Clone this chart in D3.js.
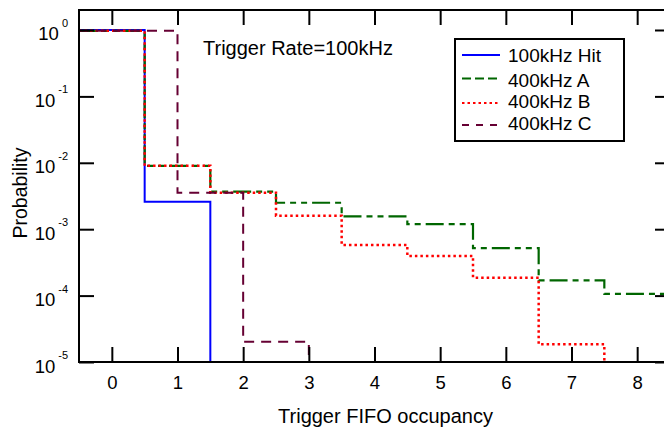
<!DOCTYPE html>
<html>
<head>
<meta charset="utf-8">
<script src="https://cdn.jsdelivr.net/npm/d3@7"></script>
<style>
  html, body { margin: 0; padding: 0; background: #fff; }
  svg { display: block; font-family: "Liberation Sans", Arial, sans-serif; }
</style>
</head>
<body>
<svg id="chart" width="664" height="432"></svg>
<script>
// ---- data ----
const xTicks = [0, 1, 2, 3, 4, 5, 6, 7, 8];
const yTicks = [1, 1e-1, 1e-2, 1e-3, 1e-4, 1e-5];
const yTickExponents = ["0", "-1", "-2", "-3", "-4", "-5"];
const seriesNames = ["100kHz Hit", "400kHz A", "400kHz B", "400kHz C"];

// bin edges and step values for each series
const hitEdges = [-0.5, 0.5, 1.5];
const hitValues = [1.0, 2.6e-3];
const aEdges = [-0.5, 0.5, 1.5, 2.5, 3.5, 4.5, 5.5, 6.5, 7.5, 8.5];
const aValues = [0.97, 9.0e-3, 3.67e-3, 2.5e-3, 1.56e-3, 1.19e-3, 5.2e-4, 1.7e-4, 1.06e-4];
const bEdges = [-0.5, 0.5, 1.5, 2.5, 3.5, 4.5, 5.5, 6.5, 7.5];
const bValues = [0.97, 9.0e-3, 3.55e-3, 1.6e-3, 5.8e-4, 3.95e-4, 1.86e-4, 1.85e-5];
const cEdges = [-0.5, 1, 2, 3];
const cValues = [0.97, 3.55e-3, 2.02e-5];
const dropsToZero = [true, false, true, true];

const xTitle = "Trigger FIFO occupancy";
const yTitle = "Probability";
const annotation = "Trigger Rate=100kHz";

// ---- styles ----
const colors = ["#0000ff", "#006600", "#ff0000", "#660033"];
const dashes = [null, "18,5,6,5,6,5", "2.5,3", "10,7"];
const legendDashes = [null, "9,4", "2.5,3", "7,7"];
const widths = [2, 2.2, 2.5, 2];

// ---- layout ----
const svg = d3.select("#chart");
const L = 79, R = 670, T = 10, B = 362;
const x = d3.scaleLinear().domain([-0.5, 8.5]).range([L, R]);
const y = d3.scaleLog().domain([1e-5, 2]).range([B, T]);

svg.append("defs").append("clipPath").attr("id", "clip")
  .append("rect").attr("x", L).attr("y", T).attr("width", R - L).attr("height", B - T);

const series = [
  {edges: hitEdges, values: hitValues},
  {edges: aEdges, values: aValues},
  {edges: bEdges, values: bValues},
  {edges: cEdges, values: cValues}
];

const line = d3.line().x(d => x(d[0])).y(d => d[1] === null ? y(y.domain()[0]) : y(d[1]));

const g = svg.append("g").attr("clip-path", "url(#clip)");
series.forEach((s, i) => {
  const pts = [];
  s.values.forEach((v, j) => { pts.push([s.edges[j], v]); pts.push([s.edges[j + 1], v]); });
  if (dropsToZero[i]) pts.push([s.edges[s.edges.length - 1], null]);
  g.append("path").attr("d", line(pts))
    .attr("fill", "none").attr("stroke", colors[i]).attr("stroke-width", widths[i])
    .attr("stroke-dasharray", dashes[i]);
});

// ---- axes (ticks inward on all four sides) ----
const tickLen = 15;
function styleAxis(sel) {
  sel.select(".domain").remove();
  sel.selectAll(".tick line").attr("stroke", "#000").attr("stroke-width", 2);
}
svg.append("g").attr("transform", `translate(0,${B})`)
  .call(d3.axisBottom(x).tickValues(xTicks).tickSize(-tickLen).tickPadding(14).tickFormat(d3.format("d")))
  .call(styleAxis)
  .call(a => a.selectAll("text").attr("font-size", 18.5).attr("fill", "#000")
    .attr("font-family", "Liberation Sans, Arial, sans-serif"));
svg.append("g").attr("transform", `translate(0,${T})`)
  .call(d3.axisTop(x).tickValues(xTicks).tickSize(-tickLen).tickFormat(""))
  .call(styleAxis);
svg.append("g").attr("transform", `translate(${L},0)`)
  .call(d3.axisLeft(y).tickValues(yTicks).tickSize(-tickLen).tickFormat(""))
  .call(styleAxis);
svg.append("g").attr("transform", `translate(${R},0)`)
  .call(d3.axisRight(y).tickValues(yTicks).tickSize(-tickLen).tickFormat(""))
  .call(styleAxis);

// y tick labels with superscript exponents
yTicks.forEach((v, i) => {
  const t = svg.append("text").attr("x", 68).attr("y", y(v) + 10.5)
    .attr("text-anchor", "end").attr("font-size", 18.5).attr("fill", "#000");
  t.append("tspan").text("10");
  t.append("tspan").attr("dx", 3).attr("dy", -13.5).attr("font-size", 11).text(yTickExponents[i]);
});

// frame
svg.append("rect").attr("x", L).attr("y", T).attr("width", R - L).attr("height", B - T)
  .attr("fill", "none").attr("stroke", "#000").attr("stroke-width", 2);

// titles
svg.append("text").attr("x", 385.5).attr("y", 423).attr("text-anchor", "middle")
  .attr("font-size", 20).attr("fill", "#000").text(xTitle);
svg.append("text").attr("transform", "translate(27,193) rotate(-90)").attr("text-anchor", "middle")
  .attr("font-size", 19.5).attr("fill", "#000").text(yTitle);
svg.append("text").attr("x", 203).attr("y", 55).attr("font-size", 20).attr("fill", "#000").text(annotation);

// legend
const lg = svg.append("g");
lg.append("rect").attr("x", 455).attr("y", 39).attr("width", 169).attr("height", 102)
  .attr("fill", "#fff").attr("stroke", "#000").attr("stroke-width", 2);
const rowLine = [55, 78.5, 103, 125];
const rowText = [62, 87, 108, 130];
seriesNames.forEach((name, i) => {
  lg.append("line").attr("x1", 462).attr("x2", 500).attr("y1", rowLine[i]).attr("y2", rowLine[i])
    .attr("stroke", colors[i]).attr("stroke-width", 2).attr("stroke-dasharray", legendDashes[i]);
  lg.append("text").attr("x", 508).attr("y", rowText[i]).attr("font-size", 19).attr("fill", "#000").text(name);
});
</script>
</body>
</html>
